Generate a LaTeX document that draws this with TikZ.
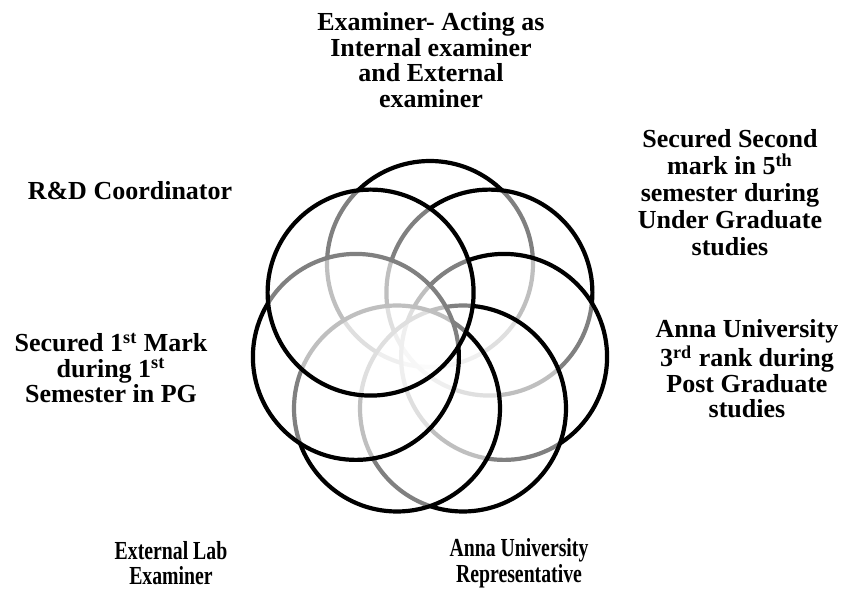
\documentclass[tikz,border=0pt]{standalone}
\usepackage{fontspec}
\setmainfont{Liberation Serif}
\usepackage{tikz}
\usetikzlibrary{calc}

\begin{document}
\begin{tikzpicture}[x=0.5pt,y=0.5pt,
  ring/.style={draw=black,line width=2.1pt,fill=white,fill opacity=0.5},
  lbl/.style={align=center,font=\fontsize{13}{12.8}\selectfont\bfseries,inner sep=0pt}]
\useasboundingbox (0.000000, 0.000000) rectangle (843.000000, 590.000000);
% Drawing circles, clockwise from the top; each one veils the ones before it
% Circle 1: top
\draw[ring] (430.000000, 326.000000) circle (103.000000);
% Circle 2: top right
\draw[ring] (489.400000, 297.400000) circle (103.000000);
% Circle 3: right
\draw[ring] (504.100000, 233.100000) circle (103.000000);
% Circle 4: bottom right
\draw[ring] (463.000000, 181.500000) circle (103.000000);
% Circle 5: bottom left
\draw[ring] (397.000000, 181.500000) circle (103.000000);
% Circle 6: left
\draw[ring] (355.900000, 233.100000) circle (103.000000);
% Circle 7: top left
\draw[ring] (370.600000, 297.400000) circle (103.000000);
% Done with circles; drawing labels
\node[lbl] (examiner) at (431.000000, 530.000000) {Examiner- Acting as\\Internal examiner\\and External\\examiner};
\node[lbl,font=\fontsize{13}{13.5}\selectfont\bfseries] (secondmark) at (730.000000, 397.000000) {Secured Second\\mark in 5\textsuperscript{th}\\semester during\\Under Graduate\\studies};
\node[lbl] (thirdrank) at (747.000000, 221.000000) {Anna University\\3\textsuperscript{rd} rank during\\Post Graduate\\studies};
\node[lbl,xscale=0.76] (annarep) at (519.000000, 27.000000) {Anna University\\Representative};
\node[lbl,xscale=0.76] (extlab) at (171.000000, 27.000000) {External Lab\\Examiner};
\node[lbl] (firstmark) at (111.000000, 222.000000) {Secured 1\textsuperscript{st} Mark\\during 1\textsuperscript{st}\\Semester in PG};
\node[lbl] (rdcoord) at (130.000000, 399.000000) {R\&D Coordinator};
% Done with labels
\end{tikzpicture}
\end{document}
